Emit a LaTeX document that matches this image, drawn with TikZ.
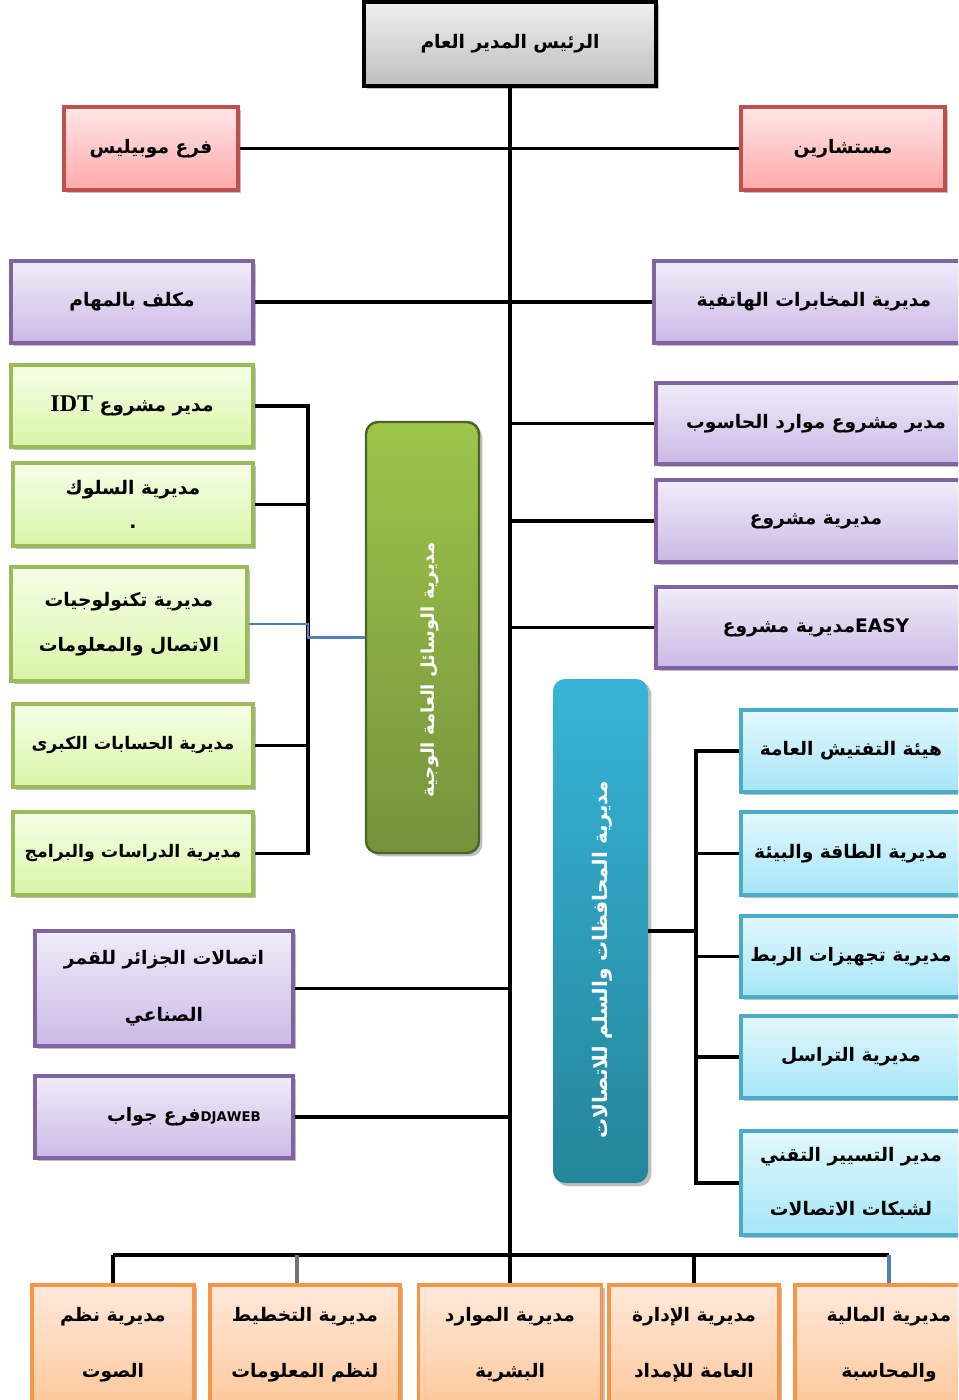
\documentclass[tikz,border=0pt]{standalone}
\usepackage{fontspec}
\usetikzlibrary{shadows}
\TeXXeTstate=1
\newfontfamily\ar[Script=Arabic]{DejaVu Sans}
\newfontfamily\serifb{Liberation Serif}
\newcommand\RL[1]{\beginR #1\endR}
\definecolor{redb}{HTML}{C0504D}\definecolor{redt}{HTML}{FFE6E6}\definecolor{redbt}{HTML}{FFA9A9}
\definecolor{purb}{HTML}{8064A2}\definecolor{purt}{HTML}{F1ECF9}\definecolor{purbt}{HTML}{CBB9E6}
\definecolor{greb}{HTML}{9BBB59}\definecolor{gret}{HTML}{F6FFE8}\definecolor{grebt}{HTML}{D9F5A6}
\definecolor{blub}{HTML}{4BACC6}\definecolor{blut}{HTML}{E3F8FD}\definecolor{blubt}{HTML}{A5E6F8}
\definecolor{orab}{HTML}{F79646}\definecolor{orat}{HTML}{FFE9DA}\definecolor{orabt}{HTML}{FDC89C}
\definecolor{grat}{HTML}{EFEFEF}\definecolor{grabt}{HTML}{BEBEBE}
\definecolor{tgt}{HTML}{9DC54B}\definecolor{tgb}{HTML}{76923C}\definecolor{tgd}{HTML}{4F6228}
\definecolor{tbt}{HTML}{37B4D8}\definecolor{tbb}{HTML}{248599}
\definecolor{bline}{HTML}{4F81BD}
\tikzset{
  sz/.style 2 args={minimum width=#1*0.75pt, minimum height=#2*0.75pt},
  bx/.style={draw, line width=2.3pt, inner sep=0pt, align=center,
    font=\ar\bfseries\fontsize{14}{16}\selectfont,
    drop shadow={shadow xshift=2.5pt, shadow yshift=-2.5pt, opacity=0.25, fill=black}},
  twol/.style={font=\ar\bfseries\fontsize{14}{#1}\selectfont},
  smallf/.style={font=\ar\bfseries\fontsize{13}{16}\selectfont},
  redbox/.style={bx, draw=redb, top color=redt, bottom color=redbt},
  purbox/.style={bx, draw=purb, top color=purt, bottom color=purbt},
  grebox/.style={bx, draw=greb, top color=gret, bottom color=grebt},
  blubox/.style={bx, draw=blub, top color=blut, bottom color=blubt},
  orabox/.style={bx, draw=orab, top color=orat, bottom color=orabt},
  graybox/.style={bx, draw=black, top color=grat, bottom color=grabt},
  tallg/.style={draw=tgd, line width=1.8pt, rounded corners=9pt, top color=tgt, bottom color=tgb,
    drop shadow={shadow xshift=2.5pt, shadow yshift=-2.5pt, opacity=0.25, fill=black}},
  tallb/.style={rounded corners=9pt, top color=tbt, bottom color=tbb,
    drop shadow={shadow xshift=2.5pt, shadow yshift=-2.5pt, opacity=0.25, fill=black}},
  vtext/.style={rotate=90, text=white, font=\ar\bfseries\fontsize{#1}{16}\selectfont},
  conn/.style={line width=2.4pt, draw=black},
}
\begin{document}
\begin{tikzpicture}[x=0.75pt,y=-0.75pt]
\path[use as bounding box, fill=white] (0,0) rectangle (958,1400);
\clip (0,0) rectangle (958,1400);
% nodes
\node[graybox, sz={292}{84}] (top) at (510,44) {\RL{الرئيس المدير العام}};
\node[redbox, sz={174}{83}] (mob) at (151,148.5) {\RL{فرع موبيليس}};
\node[redbox, sz={204}{83}] (mus) at (843,148.5) {\RL{مستشارين}};
\node[purbox, sz={242}{82}] (muk) at (132,302) {\RL{مكلف بالمهام}};
\node[purbox, sz={320}{82}] (mukh) at (814,302) {\RL{مديرية المخابرات الهاتفية}};
\node[grebox, sz={242}{82}] (g1) at (132,406) {\RL{مدير مشروع \beginL{\serifb\bfseries\fontsize{18}{18}\selectfont IDT}\endL}};
\node[grebox, sz={240}{83}, twol=26] (g2) at (133,504.5) {\RL{مديرية السلوك}\\ .};
\node[grebox, sz={236}{114}, twol=34] (g3) at (129,624) {\RL{مديرية تكنولوجيات}\\ \RL{الاتصال والمعلومات}};
\node[grebox, sz={240}{83}, smallf] (g4) at (133,745.5) {\RL{مديرية الحسابات الكبرى}};
\node[grebox, sz={240}{83}, smallf] (g5) at (133,853.5) {\RL{مديرية الدراسات والبرامج}};
\node[tallg, sz={113}{431}] (gtall) at (422.5,637.5) {};
\node[vtext=13.5] (gtxt) at (430,670) {\RL{مديرية الوسائل العامة الوجية}};
\node[purbox, sz={320}{81}] (p1) at (816,423.5) {\RL{مدير مشروع موارد الحاسوب}};
\node[purbox, sz={320}{82}] (p2) at (816,521) {\RL{مديرية مشروع}};
\node[purbox, sz={320}{81}] (p3) at (816,627.5) {\RL{\beginL EASY\endL مديرية مشروع}};
\node[tallb, sz={95}{504}] (btall) at (600.5,931) {};
\node[vtext=15] (btxt) at (602,960) {\RL{مديرية المحافظات والسلم للاتصالات}};
\node[blubox, sz={220}{82}] (b1) at (851,751) {\RL{هيئة التفتيش العامة}};
\node[blubox, sz={220}{83}] (b2) at (851,853.5) {\RL{مديرية الطاقة والبيئة}};
\node[blubox, sz={220}{81}] (b3) at (851,956.5) {\RL{مديرية تجهيزات الربط}};
\node[blubox, sz={220}{82}] (b4) at (851,1057) {\RL{مديرية التراسل}};
\node[blubox, sz={220}{104}, twol=40] (b5) at (851,1183) {\RL{مدير التسيير التقني}\\ \RL{لشبكات الاتصالات}};
\node[purbox, sz={258}{115}, twol=43] (pl1) at (164,988.5) {\RL{اتصالات الجزائر للقمر}\\ \RL{الصناعي}};
\node[purbox, sz={258}{82}] (pl2) at (164,1117) {\hspace*{30pt}\RL{\beginL{\bfseries\fontsize{10}{10}\selectfont DJAWEB}\endL فرع جواب}};
\node[orabox, sz={162}{120}, twol=42] (o1) at (113,1345) {\RL{مديرية نظم}\\ \RL{الصوت}};
\node[orabox, sz={190}{120}, twol=42] (o2) at (305,1345) {\RL{مديرية التخطيط}\\ \RL{لنظم المعلومات}};
\node[orabox, sz={183}{120}, twol=42] (o3) at (510,1345) {\RL{مديرية الموارد}\\ \RL{البشرية}};
\node[orabox, sz={170}{120}, twol=42] (o4) at (694,1345) {\RL{مديرية الإدارة}\\ \RL{العامة للإمداد}};
\node[orabox, sz={188}{120}, twol=42] (o5) at (889,1345) {\RL{مديرية المالية}\\ \RL{والمحاسبة}};
% coordinates
\coordinate (tB) at (510,1255);
\coordinate (gb) at (308,0);
\coordinate (bb) at (696,0);
\coordinate (d2) at (297,1255);
% connectors
\draw[conn] (top.south) -- (o3.north);
\draw[conn] (mob.east) -- (mus.west);
\draw[conn] (muk.east) -- (mukh.west);
\draw[conn] (p1.west) -- (p1.west -| tB);
\draw[conn] (p2.west) -- (p2.west -| tB);
\draw[conn] (p3.west) -- (p3.west -| tB);
\draw[conn] (pl1.east) -- (pl1.east -| tB);
\draw[conn] (pl2.east) -- (pl2.east -| tB);
\draw[conn] (g1.east) -- (g1.east -| gb) -- (g5.east -| gb) -- (g5.east);
\draw[conn] (g2.east) -- (g2.east -| gb);
\draw[conn] (g4.east) -- (g4.east -| gb);
\draw[conn, draw=bline, line width=1.6pt] (g3.east) -- (g3.east -| gb) |- (gtall.west);
\draw[conn] (b1.west) -- (b1.west -| bb) -- (b5.west -| bb) -- (b5.west);
\draw[conn] (b2.west) -- (b2.west -| bb);
\draw[conn] (b3.west) -- (b3.west -| bb);
\draw[conn] (b4.west) -- (b4.west -| bb);
\draw[conn] (btall.east) -- (btall.east -| bb);
\draw[conn] (o1.north |- tB) -- (o5.north |- tB);
\draw[conn] (o1.north |- tB) -- (o1.north);
\draw[conn, draw=black!55] (d2) -- (d2 |- o2.north);
\draw[conn] (o4.north |- tB) -- (o4.north);
\draw[conn, draw=bline] (o5.north |- tB) -- (o5.north);
\end{tikzpicture}
\end{document}
